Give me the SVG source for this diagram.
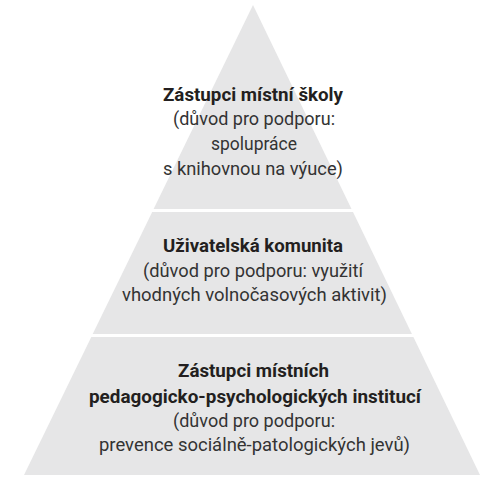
<svg xmlns="http://www.w3.org/2000/svg" width="500" height="495" viewBox="0 0 500 495">
<style>
.band{fill:#e6e6e7}
.t{font-family:Roboto,"Liberation Sans",sans-serif;font-size:19px;text-anchor:middle;fill:#333333}
.b{font-weight:bold;fill:#231f20}
</style>
<rect width="500" height="495" fill="#ffffff"/>
<g id="level-top">
<polygon class="band" points="253,5 351.5,209 153.6,209"/>
<text class="t b" x="253" y="101" textLength="180" lengthAdjust="spacingAndGlyphs">Zástupci místní školy</text>
<text class="t" x="254" y="125" textLength="162" lengthAdjust="spacingAndGlyphs">(důvod pro podporu:</text>
<text class="t" x="254" y="150" textLength="86" lengthAdjust="spacingAndGlyphs">spolupráce</text>
<text class="t" x="253" y="175" textLength="180" lengthAdjust="spacingAndGlyphs">s knihovnou na výuce)</text>
</g>
<g id="level-middle">
<polygon class="band" points="152.2,212 353,212 411.9,334 92.7,334"/>
<text class="t b" x="253" y="252" textLength="180" lengthAdjust="spacingAndGlyphs">Uživatelská komunita</text>
<text class="t" x="253" y="277" textLength="220" lengthAdjust="spacingAndGlyphs">(důvod pro podporu: využití</text>
<text class="t" x="254.5" y="301" textLength="265" lengthAdjust="spacingAndGlyphs">vhodných volnočasových aktivit)</text>
</g>
<g id="level-bottom">
<polygon class="band" points="91.3,337 413.4,337 480,475 24,475"/>
<text class="t b" x="253.5" y="377" textLength="151" lengthAdjust="spacingAndGlyphs">Zástupci místních</text>
<text class="t b" x="255" y="403" textLength="332" lengthAdjust="spacingAndGlyphs">pedagogicko-psychologických institucí</text>
<text class="t" x="254" y="427" textLength="162" lengthAdjust="spacingAndGlyphs">(důvod pro podporu:</text>
<text class="t" x="254.5" y="451" textLength="311" lengthAdjust="spacingAndGlyphs">prevence sociálně-patologických jevů)</text>
</g>
<g id="connectors"/>
</svg>
